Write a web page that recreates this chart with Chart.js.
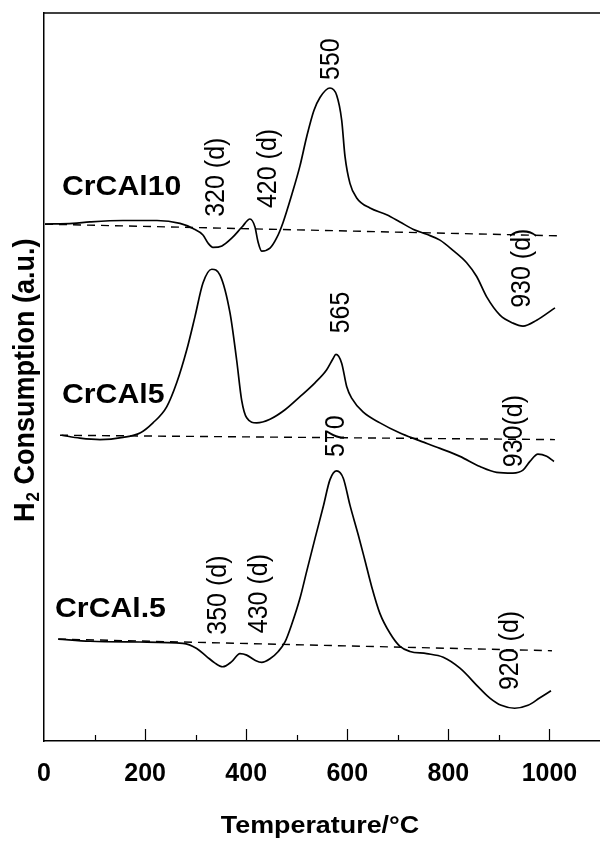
<!DOCTYPE html>
<html><head><meta charset="utf-8">
<script src="https://cdn.jsdelivr.net/npm/chart.js@4.4.1/dist/chart.umd.min.js"></script>
<style>html,body{margin:0;padding:0;background:#fff;}#wrap{width:600px;height:841px;}</style>
</head><body><div id="wrap"><canvas id="c" width="600" height="841"></canvas></div>
<script>
// ---- data (temperature in °C on the plotted axis, signal in a.u.) ----
const t10 = [2,57.4,91,156.3,223.5,269,294.8,314.5,324.4,334.3,352.1,371.9,391.7,407.5,417.4,423.3,430.7,447.1,460.3,472.8,490,506.4,519.7,534,546,565.8,579,588.9,595.5,605.3,618.6,644.9,677.9,704.3,730,757.1,783.4,809.1,836.2,856,875.8,902.1,927.8,947.6,974.7,1010.9];
const h10 = [71.0,71.1,71.3,71.5,71.5,71.1,70.4,69.5,68.4,67.8,68.0,69.1,70.6,71.7,70.6,68.6,67.3,67.7,69.1,71.2,75.0,79.0,83.0,86.6,88.4,89.7,88.7,85.3,80.3,76.6,74.6,73.2,72.3,71.3,70.3,69.6,68.8,67.4,65.7,63.8,61.0,58.5,57.4,57.0,57.8,59.5];
const t5 = [35.0,71.2,110.8,156.3,189.9,215.6,242.7,262.5,282.3,298.7,314.5,331.8,348.2,368.0,381.2,391.1,401.0,420.8,447.1,476.8,506.4,536.1,559.3,571.7,577.6,588.9,598.8,608.7,631.1,664.7,704.3,737.3,783.4,822.9,862.5,895.5,927.8,947.6,961.4,977.2,994.5,1008.9];
const h5 = [42.0,41.6,41.4,41.7,42.3,43.7,45.9,49.2,53.7,58.3,62.9,64.8,64.0,58.8,52.3,46.8,44.4,43.7,44.2,45.5,47.3,49.2,51.0,52.5,53.1,51.9,48.7,47.1,45.2,43.7,42.3,41.4,40.2,39.1,37.7,36.9,36.8,37.2,38.4,39.4,39.1,38.4];
const t05 = [28.3,91.0,189.9,275.0,302.1,321.9,338.3,353.5,371.3,387.7,401.0,417.4,430.7,447.1,463.5,476.8,490.0,506.4,519.7,536.1,552.5,565.8,579.0,592.1,605.3,621.8,635.0,648.3,664.7,684.5,704.3,724.0,757.1,789.9,822.9,862.5,882.1,904.6,931.2,957.5,980.4,1003.0];
const h05 = [14.0,13.7,13.6,13.4,12.7,11.6,10.7,10.2,10.9,12.0,11.8,11.1,10.8,11.3,12.3,13.6,16.0,19.6,23.3,27.8,32.2,35.9,37.1,36.1,32.4,28.3,24.8,21.2,17.5,14.8,13.0,12.3,12.0,11.5,10.0,7.2,5.9,4.9,4.5,4.9,5.9,6.9];
const base10T = [2, 1014.8], base10H = [71.0, 69.4];
const base5T = [31.7, 1010.9], base5H = [42.0, 41.4];
const base05T = [27.7, 1004.9], base05H = [14.0, 12.4];
const xTickValues = [0,200,400,600,800,1000];
const xTickLabels = ['0','200','400','600','800','1000'];
const sampleNames = ['CrCAl10','CrCAl5','CrCAl.5'];
const peakTexts = ['550','320 (d)','420 (d)','930 (d)','565','930(d)','570','350 (d)','430 (d)','920 (d)'];
// ---- annotation anchors (data units) ----
const nameAnchors = [[35.6,75.0],[35.6,46.4],[21.8,17.0]];
const peakAnchors = [[567.8,90.8],[340.3,72.0],[443.0,73.2],[945.6,59.5],[587.5,56.0],[929.8,37.6],[577.6,39.0],[344.2,14.6],[425.3,14.8],[921.9,7.0]];

const FONT = "'Liberation Sans', Arial, Helvetica, sans-serif";
const STRETCH = 1.12;
const pts = (t,h) => t.map((v,i)=>({x:v,y:h[i]}));
const curve = (t,h) => ({data:pts(t,h), borderColor:'#000', borderWidth:1.7, pointRadius:0, cubicInterpolationMode:'monotone', fill:false});
const dash = (t,h) => ({data:pts(t,h), borderColor:'#000', borderWidth:1.4, borderDash:[8,6], pointRadius:0, tension:0, fill:false});

const decor = {
  id:'decor',
  afterDraw(chart){
    const {ctx, chartArea:a, scales:{x,y}} = chart;
    ctx.save();
    ctx.strokeStyle='#000'; ctx.lineWidth=1.5;
    ctx.beginPath(); ctx.moveTo(a.left, a.top); ctx.lineTo(a.right, a.top); ctx.stroke();
    // inward ticks
    ctx.lineWidth=1.2;
    for(let v=100; v<=1000; v+=100){
      const px = Math.round(x.getPixelForValue(v))+0.5;
      const len = (v%200===0)?12:6;
      ctx.beginPath(); ctx.moveTo(px, a.bottom); ctx.lineTo(px, a.bottom-len); ctx.stroke();
    }
    ctx.fillStyle='#000';
    // sample names
    ctx.font = "bold 27px "+FONT; ctx.textAlign='left'; ctx.textBaseline='alphabetic';
    sampleNames.forEach((s,i)=>{
      ctx.save();
      ctx.translate(x.getPixelForValue(nameAnchors[i][0]), y.getPixelForValue(nameAnchors[i][1]));
      ctx.scale(STRETCH,1); ctx.fillText(s,0,0); ctx.restore();
    });
    // rotated peak labels
    ctx.font = "25px "+FONT; ctx.textBaseline='middle';
    peakTexts.forEach((s,i)=>{
      ctx.save();
      ctx.translate(x.getPixelForValue(peakAnchors[i][0]), y.getPixelForValue(peakAnchors[i][1]));
      ctx.scale(STRETCH,1); ctx.rotate(-Math.PI/2); ctx.fillText(s,0,0); ctx.restore();
    });
    // y title
    ctx.save();
    ctx.translate(34, 522); ctx.scale(1.08,1); ctx.rotate(-Math.PI/2);
    ctx.textBaseline='alphabetic';
    ctx.font = "bold 27px "+FONT; ctx.fillText('H',0,0);
    let u = ctx.measureText('H').width;
    ctx.font = "bold 17px "+FONT; ctx.fillText('2',u+1,5);
    u += ctx.measureText('2').width+1;
    ctx.font = "bold 27px "+FONT; ctx.fillText(' Consumption (a.u.)',u,0);
    ctx.restore();
    // x title
    ctx.save();
    ctx.font = "bold 24px "+FONT; ctx.textBaseline='alphabetic';
    const w = ctx.measureText('Temperature/°C').width*STRETCH;
    ctx.translate(320 - w/2, 833); ctx.scale(STRETCH,1); ctx.fillText('Temperature/°C',0,0);
    ctx.restore();
    ctx.restore();
  }
};

new Chart(document.getElementById('c'), {
  type:'line',
  data:{datasets:[curve(t10,h10), dash(base10T,base10H), curve(t5,h5), dash(base5T,base5H), curve(t05,h05), dash(base05T,base05H)]},
  options:{
    responsive:false, animation:false, devicePixelRatio:1,
    layout:{padding:{top:13,right:0,bottom:0,left:0}},
    plugins:{legend:{display:false}, tooltip:{enabled:false}},
    scales:{
      x:{type:'linear', min:0, max:1100,
         afterFit(s){s.height=100; s.paddingRight=0; s.paddingLeft=0;},
         grid:{display:false, drawTicks:false},
         border:{display:true, color:'#000', width:1.5},
         ticks:{stepSize:100, autoSkip:false, maxRotation:0, padding:18, color:'#000',
                font:{family:FONT, size:25, weight:'bold'},
                callback:(v)=>{const i=xTickValues.indexOf(v); return i>=0?xTickLabels[i]:'';}}},
      y:{type:'linear', min:0, max:100,
         afterFit(s){s.width=44;},
         grid:{display:false, drawTicks:false},
         border:{display:true, color:'#000', width:1.5},
         ticks:{display:false}}
    }
  },
  plugins:[decor]
});
</script></body></html>
